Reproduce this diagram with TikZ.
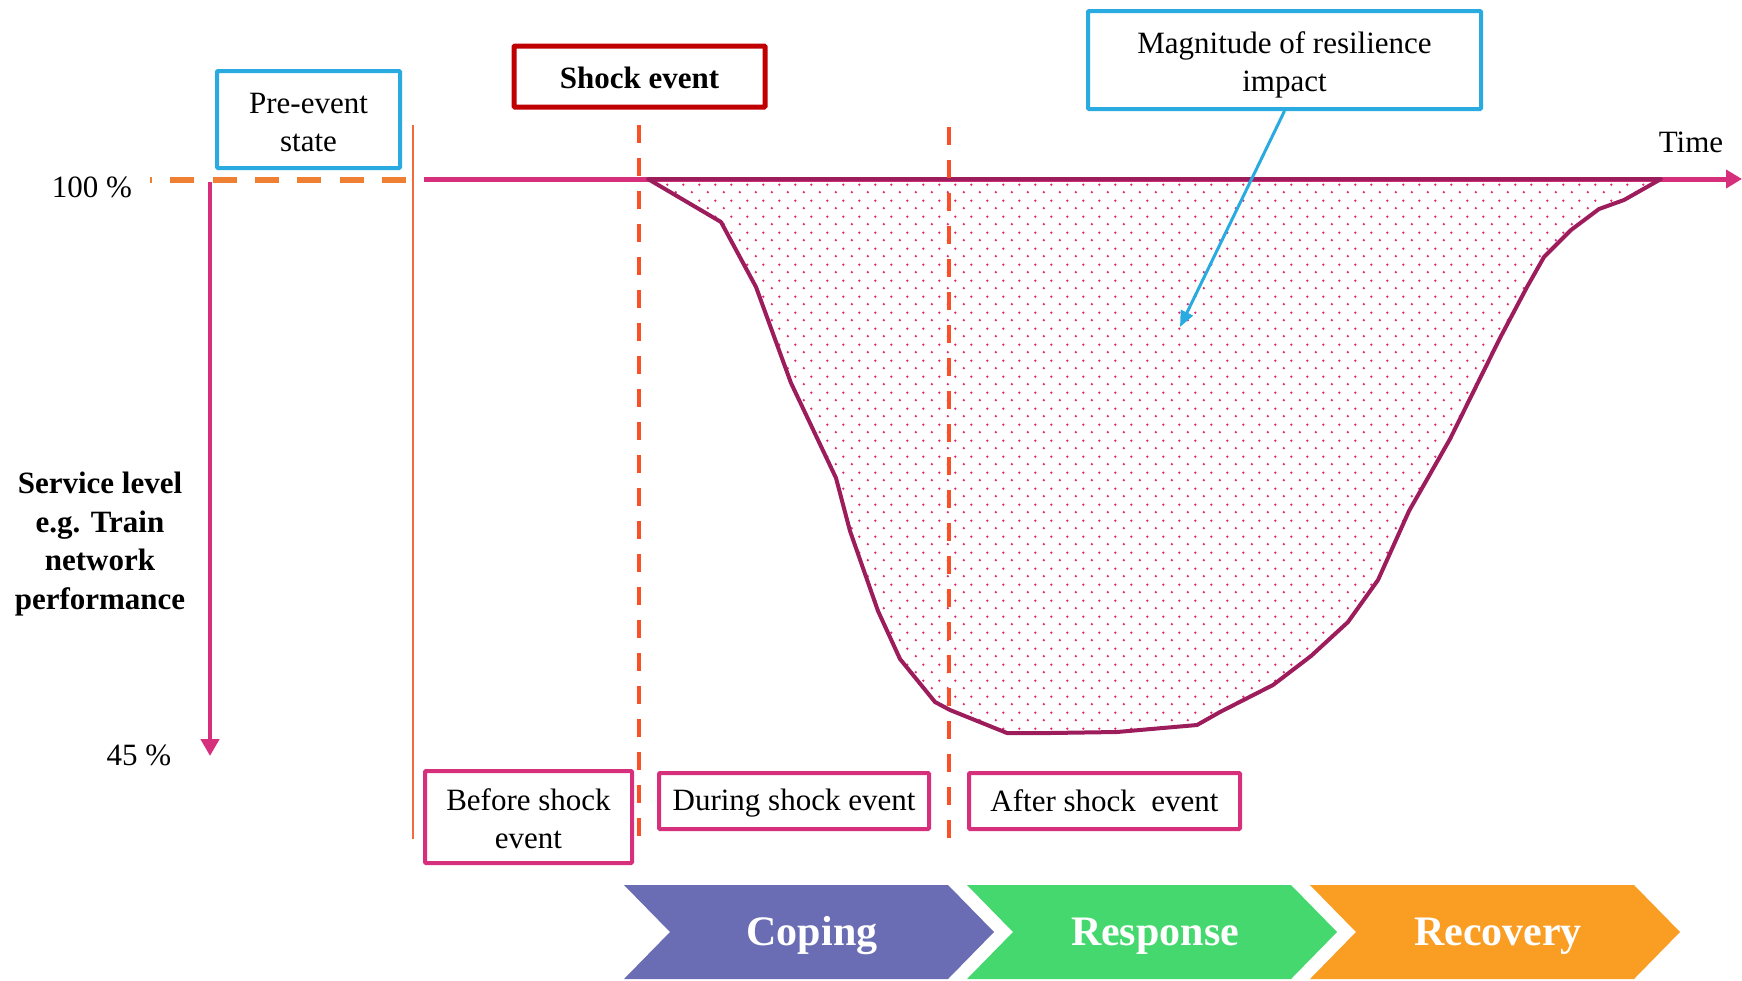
\documentclass[tikz,border=0pt]{standalone}
\usepackage{fontspec}
\setmainfont{Liberation Serif}
\usetikzlibrary{arrows.meta,patterns.meta}

\definecolor{cyanb}{HTML}{29AAE1}
\definecolor{shockred}{HTML}{C00000}
\definecolor{magb}{HTML}{D6307C}
\definecolor{curvec}{HTML}{9C1C5C}
\definecolor{dotc}{HTML}{DC2F73}
\definecolor{predash}{HTML}{EE7F33}
\definecolor{phasedash}{HTML}{FA5028}
\definecolor{thinor}{HTML}{F26B3A}
\definecolor{copingc}{HTML}{6A6DB4}
\definecolor{responsec}{HTML}{45D86E}
\definecolor{recoveryc}{HTML}{FA9D23}

% staggered dot fill for the impact area
\tikzdeclarepattern{
  name=stagdots,
  type=uncolored,
  bounding box={(0pt,0pt) and (16pt,16pt)},
  tile size={(16pt,16pt)},
  code={
    \fill (4pt,4pt) circle (1.35pt);
    \fill (12pt,12pt) circle (1.35pt);
  }
}

\tikzset{
  txt/.style={font=\fontsize{31}{38}\selectfont, align=center, inner sep=0pt},
  btxt/.style={font=\fontsize{31}{38.5}\selectfont\bfseries, align=center, inner sep=0pt},
  bluebox/.style={draw=cyanb, line width=4pt, rounded corners=1pt, inner sep=0pt},
  magbox/.style={draw=magb, line width=4pt, rounded corners=1pt, inner sep=0pt},
  shockbox/.style={draw=shockred, line width=5pt, rounded corners=1pt, inner sep=0pt},
  axisline/.style={draw=magb, line width=5pt},
  phaseline/.style={draw=phasedash, line width=4.5pt, dash pattern=on 18pt off 15pt},
  chevtxt/.style={font=\fontsize{42}{50}\selectfont\bfseries, text=white, inner sep=0pt},
}

\begin{document}
\begin{tikzpicture}[x=1pt,y=-1pt]
\useasboundingbox (0,0) rectangle (1742,980);

% framed boxes
\node[bluebox, minimum width=183, minimum height=97] (pre) at (308.5,119.5) {};
\node[shockbox, minimum width=251, minimum height=61] (shock) at (639.5,76.5) {};
\node[bluebox, minimum width=393, minimum height=98] (mag) at (1284.5,60) {};
\node[magbox, minimum width=207, minimum height=92] (before) at (528.5,817) {};
\node[magbox, minimum width=270, minimum height=56] (during) at (794,801) {};
\node[magbox, minimum width=271, minimum height=56] (after) at (1104.5,801) {};

% box texts
\node[txt] (pretext) at (308.5,122) {Pre-event\\state};
\node[btxt] (shocktext) at (639.5,78) {Shock event};
\node[txt] (magtext) at (1284.5,65) {Magnitude of resilience\\impact};
\node[txt] (beforetext) at (528.5,819) {Before shock\\event};
\node[txt] (duringtext) at (794,803) {During shock event};
\node[txt] (aftertext) at (1104.5,801) {After shock\ \ event};

% axis labels
\node[txt] (hundred) at (92,187) {100 \%};
\node[txt] (fortyfive) at (139,755) {45 \%};
\node[txt] (time) at (1691,142) {Time};
\node[btxt] (service) at (100,544) {Service level\\e.g. Train\\network\\performance};

% time axis and service level axis
\coordinate (tstart) at (424,179);
\coordinate (tend) at (1742,179);
\draw[axisline, -{Triangle[length=16pt,width=18pt]}] (tstart) -- (tend);
\coordinate (sstart) at (210,182);
\coordinate (send) at (210,756);
\draw[axisline, line width=4.5pt, -{Triangle[length=17pt,width=18pt]}] (sstart) -- (send);

% pre-event dashed level
\coordinate (pdA) at (150,180);
\coordinate (pdB) at (406,180);
\draw[predash, line width=6pt, dash pattern=on 24pt off 18.3pt, dash phase=22pt] (pdA) -- (pdB);

% thin separator before the shock event
\coordinate (sepA) at (413,125);
\coordinate (sepB) at (413,839);
\draw[thinor, line width=1.8pt] (sepA) -- (sepB);

% impact area
\draw[curvec, line width=4pt, line join=round, pattern={stagdots}, pattern color=dotc]
  (648,179) -- (721,222) -- (756,287) -- (791,383) -- (836,478) -- (850,531)
  -- (878,611) -- (900,659) -- (935,702) -- (950,710) -- (1007,733) -- (1050,733)
  -- (1117,732) -- (1197,725) -- (1220,712) -- (1273,685) -- (1311,656)
  -- (1348,622) -- (1378,580) -- (1409,511) -- (1450,439) -- (1500,338)
  -- (1527,287) -- (1544,257) -- (1571,230) -- (1599,209) -- (1624,200)
  -- (1661,179) -- cycle;

% phase boundaries
\coordinate (p1A) at (639,125);
\coordinate (p1B) at (639,839);
\coordinate (p2A) at (949,127);
\coordinate (p2B) at (949,840);
\draw[phaseline] (p1A) -- (p1B);
\draw[phaseline] (p2A) -- (p2B);

% pointer to the impact area
\coordinate (magtip) at (1180,327);
\draw[draw=cyanb, line width=3pt, -{Triangle[length=16pt,width=13pt]}] (mag.south) -- (magtip);

% phase chevrons
\foreach \L/\col/\lab/\nm in {624/copingc/Coping/coping, 967/responsec/Response/response, 1310/recoveryc/Recovery/recovery}{
  \fill[\col] (\L,885) -- (\L+324,885) -- (\L+370,932) -- (\L+324,979)
    -- (\L,979) -- (\L+46,932) -- cycle;
  \node[chevtxt] (\nm) at (\L+188,936) {\lab};
}
\end{tikzpicture}
\end{document}
